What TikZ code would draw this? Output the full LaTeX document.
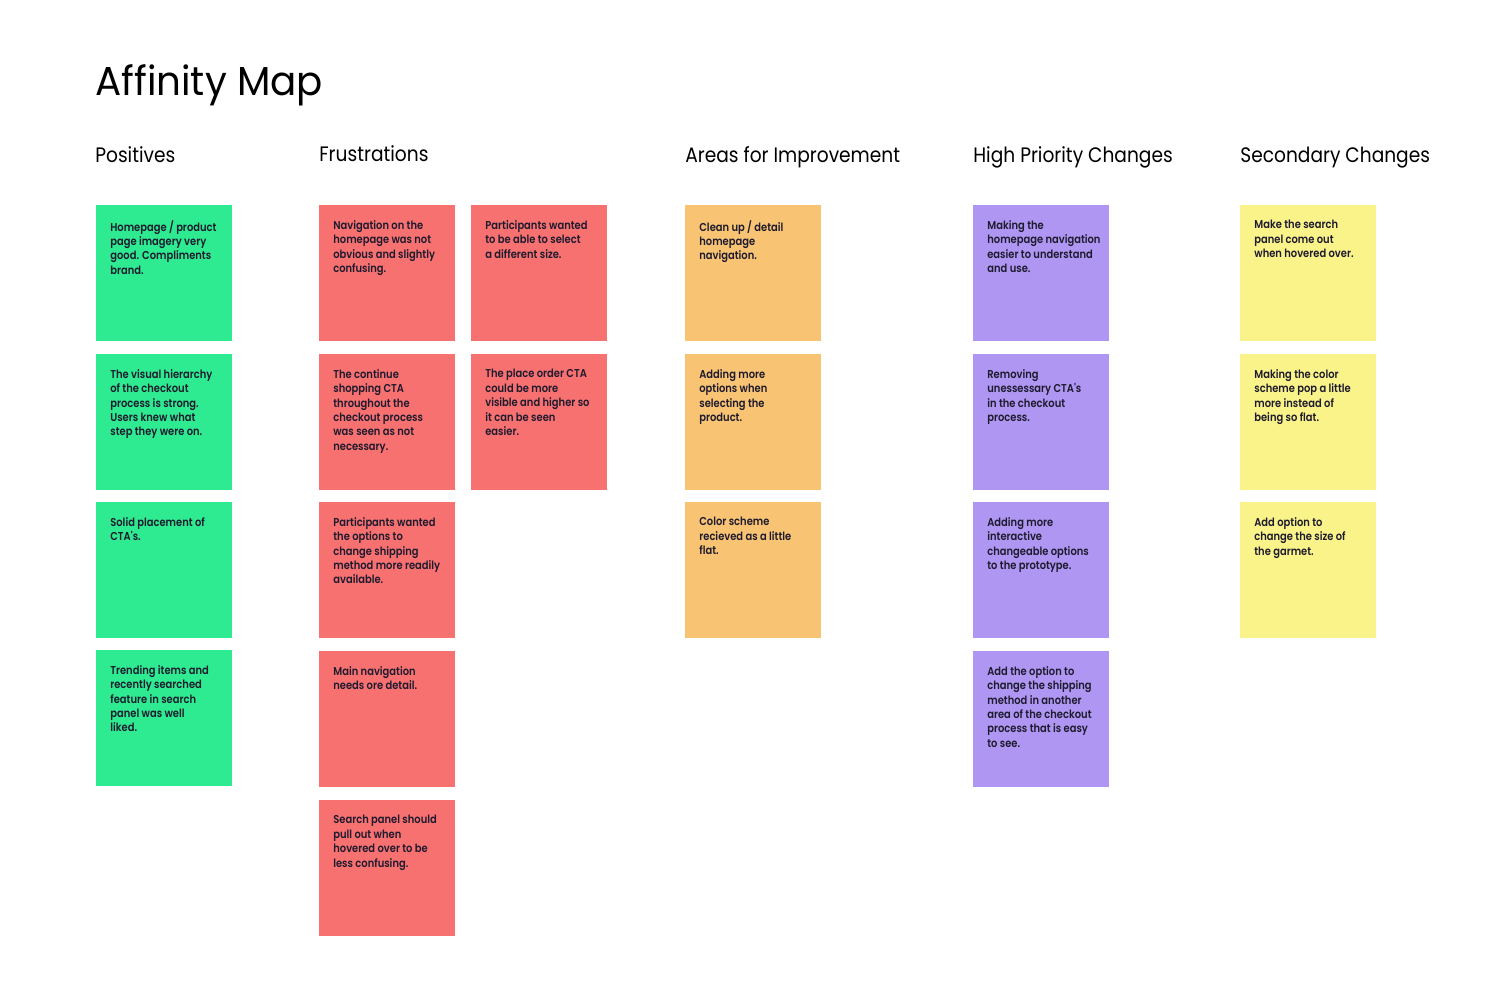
\documentclass[tikz,border=0pt]{standalone}
\usepackage{fontspec}
\setmainfont{Poppins}[FakeStretch=0.89]
\newfontfamily\titlefont{Poppins}[FakeStretch=0.96]
\newfontfamily\notefont{Poppins}[UprightFont=* SemiBold,FakeStretch=0.87]
\usepackage{tikz}
\definecolor{posgreen}{HTML}{2EEB91}
\definecolor{frusred}{HTML}{F87171}
\definecolor{areaorange}{HTML}{F8C373}
\definecolor{highpurple}{HTML}{AE96F2}
\definecolor{secyellow}{HTML}{FAF38A}
\definecolor{ink}{HTML}{1E1B2E}

\begin{document}
\begin{tikzpicture}[x=0.02cm,y=-0.02cm,
  note/.style={minimum width=2.72cm,minimum height=2.72cm,anchor=north west,inner sep=0,outer sep=0},
  notetext/.style={anchor=north west,inner sep=0,align=left,text=ink,font=\notefont\fontsize{6.5}{8.2}\selectfont,execute at begin node=\vphantom{/}},
  heading/.style={anchor=base west,inner sep=0,font=\fontsize{11.9}{14}\selectfont}]
\useasboundingbox (0,0) rectangle (1500,993);
% title and column headings
\node[anchor=base west,inner sep=0,font=\titlefont\fontsize{23}{28}\selectfont] (title) at (95,96) {Affinity Map};
\node[heading] (hpos) at (95,163) {Positives};
\node[heading] (hfrus) at (319,162) {Frustrations};
\node[heading] (harea) at (685,163) {Areas for Improvement};
\node[heading] (hhigh) at (973,163) {High Priority Changes};
\node[heading] (hsec) at (1240,163) {Secondary Changes};
% positives
\node[note,fill=posgreen] (pos1) at (96,205) {};
\node[note,fill=posgreen] (pos2) at (96,354) {};
\node[note,fill=posgreen] (pos3) at (96,502) {};
\node[note,fill=posgreen] (pos4) at (96,650) {};
\node[notetext] (pos1t) at (110,220) {Homepage / product\\page imagery very\\good. Compliments\\brand.};
\node[notetext] (pos2t) at (110,369) {The visual hierarchy\\of the checkout\\process is strong.\\Users knew what\\step they were on.};
\node[notetext] (pos3t) at (110,517) {Solid placement of\\CTA's.};
\node[notetext] (pos4t) at (110,665) {Trending items and\\recently searched\\feature in search\\panel was well\\liked.};
% frustrations
\node[note,fill=frusred] (frus1) at (319,205) {};
\node[note,fill=frusred] (frus2) at (471,205) {};
\node[note,fill=frusred] (frus3) at (319,354) {};
\node[note,fill=frusred] (frus4) at (471,354) {};
\node[note,fill=frusred] (frus5) at (319,502) {};
\node[note,fill=frusred] (frus6) at (319,651) {};
\node[note,fill=frusred] (frus7) at (319,800) {};
\node[notetext] (frus1t) at (333,220) {Navigation on the\\homepage was not\\obvious and slightly\\confusing.};
\node[notetext] (frus2t) at (485,220) {Participants wanted\\to be able to select\\a different size.};
\node[notetext] (frus3t) at (333,369) {The continue\\shopping CTA\\throughout the\\checkout process\\was seen as not\\necessary.};
\node[notetext] (frus4t) at (485,369) {The place order CTA\\could be more\\visible and higher so\\it can be seen\\easier.};
\node[notetext] (frus5t) at (333,517) {Participants wanted\\the options to\\change shipping\\method more readily\\available.};
\node[notetext] (frus6t) at (333,666) {Main navigation\\needs ore detail.};
\node[notetext] (frus7t) at (333,815) {Search panel should\\pull out when\\hovered over to be\\less confusing.};
% areas for improvement
\node[note,fill=areaorange] (area1) at (685,205) {};
\node[note,fill=areaorange] (area2) at (685,354) {};
\node[note,fill=areaorange] (area3) at (685,502) {};
\node[notetext] (area1t) at (699,220) {Clean up / detail\\homepage\\navigation.};
\node[notetext] (area2t) at (699,369) {Adding more\\options when\\selecting the\\product.};
\node[notetext] (area3t) at (699,517) {Color scheme\\recieved as a little\\flat.};
% high priority changes
\node[note,fill=highpurple] (high1) at (973,205) {};
\node[note,fill=highpurple] (high2) at (973,354) {};
\node[note,fill=highpurple] (high3) at (973,502) {};
\node[note,fill=highpurple] (high4) at (973,651) {};
\node[notetext] (high1t) at (987,220) {Making the\\homepage navigation\\easier to understand\\and use.};
\node[notetext] (high2t) at (987,369) {Removing\\unessessary CTA's\\in the checkout\\process.};
\node[notetext] (high3t) at (987,517) {Adding more\\interactive\\changeable options\\to the prototype.};
\node[notetext] (high4t) at (987,666) {Add the option to\\change the shipping\\method in another\\area of the checkout\\process that is easy\\to see.};
% secondary changes
\node[note,fill=secyellow] (sec1) at (1240,205) {};
\node[note,fill=secyellow] (sec2) at (1240,354) {};
\node[note,fill=secyellow] (sec3) at (1240,502) {};
\node[notetext] (sec1t) at (1254,220) {Make the search\\panel come out\\when hovered over.};
\node[notetext] (sec2t) at (1254,369) {Making the color\\scheme pop a little\\more instead of\\being so flat.};
\node[notetext] (sec3t) at (1254,517) {Add option to\\change the size of\\the garmet.};
\end{tikzpicture}
\end{document}
